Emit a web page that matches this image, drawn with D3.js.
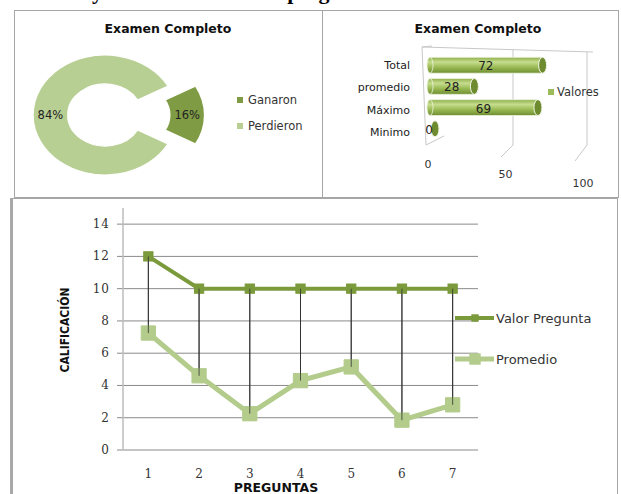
<!DOCTYPE html>
<html>
<head>
<meta charset="utf-8">
<script src="https://cdn.jsdelivr.net/npm/d3@7"></script>
<style>
  body { margin: 0; background: #fff; }
  svg { display: block; }
</style>
</head>
<body>
<svg id="chart"></svg>
<script>
// donut data
const pieLabels = ["Ganaron", "Perdieron"];
const pieValues = [16, 84];
const pieColors = ["#7f9c45", "#b8cf94"];

// bar data
const barCats = ["Total", "promedio", "Máximo", "Minimo"];
const barValues = [72, 28, 69, 0];
const barTicks = [0, 50, 100];

// line data
const preguntas = [1, 2, 3, 4, 5, 6, 7];
const valorPregunta = [12, 10, 10, 10, 10, 10, 10];
const promedio = [7.25, 4.6, 2.25, 4.3, 5.15, 1.85, 2.8];
const yTicks = [0, 2, 4, 6, 8, 10, 12, 14];

const W = 621, H = 494;
const svg = d3.select("#chart").attr("width", W).attr("height", H);

const defs = svg.append("defs");
const grad = defs.append("linearGradient").attr("id", "cyl").attr("x1", 0).attr("y1", 0).attr("x2", 0).attr("y2", 1);
grad.append("stop").attr("offset", "0%").attr("stop-color", "#8fae4c");
grad.append("stop").attr("offset", "30%").attr("stop-color", "#c6dd8e");
grad.append("stop").attr("offset", "60%").attr("stop-color", "#9dbd58");
grad.append("stop").attr("offset", "100%").attr("stop-color", "#6f8d30");

// page heading, mostly cut off at the top (only descenders show)
svg.append("text").attr("x", 12).attr("y", -1)
  .style("font-family", "Liberation Serif").style("font-weight", "bold").style("font-size", "22px")
  .text("Análisis y resultados de cada pregunta");

// panel frames
svg.append("rect").attr("x", 14.5).attr("y", 10.5).attr("width", 308).attr("height", 187)
  .attr("fill", "none").attr("stroke", "#a6a6a6");
svg.append("rect").attr("x", 322.5).attr("y", 10.5).attr("width", 296).attr("height", 187)
  .attr("fill", "none").attr("stroke", "#a6a6a6");
svg.append("rect").attr("x", 12.5).attr("y", 198.5).attr("width", 605).attr("height", 310)
  .attr("fill", "none").attr("stroke", "#a6a6a6");
svg.append("line").attr("x1", 11).attr("x2", 11).attr("y1", 198).attr("y2", H)
  .attr("stroke", "#8c8c8c").attr("stroke-width", 1.5);

const titleStyle = (t) => t.style("font-family", "DejaVu Sans").style("font-weight", "bold")
  .style("font-size", "12.5px").attr("text-anchor", "middle").attr("fill", "#111");
const labelFont = (t, size) => t.style("font-family", "DejaVu Sans").style("font-size", size || "11.5px").attr("fill", "#333");

// ---------- donut ----------
svg.append("text").attr("x", 168).attr("y", 33).text("Examen Completo").call(titleStyle);

const half = Math.PI * pieValues[0] / d3.sum(pieValues);
const pie = d3.pie().sort(null).startAngle(Math.PI / 2 - half).endAngle(Math.PI / 2 - half + 2 * Math.PI);
const arcs = pie(pieValues);
const arc = d3.arc().innerRadius(31).outerRadius(60);
const donut = svg.append("g").attr("transform", "translate(105,115) scale(1.2,1)");
const explode = [23, 0];

donut.selectAll("path").data(arcs).enter().append("path")
  .attr("d", arc)
  .attr("fill", (d, i) => pieColors[i])
  .attr("stroke", "#fff").attr("stroke-width", 1.2)
  .attr("transform", (d, i) => {
    const a = (d.startAngle + d.endAngle) / 2;
    return `translate(${Math.sin(a) * explode[i]},${-Math.cos(a) * explode[i]})`;
  });

arcs.forEach((d, i) => {
  const a = (d.startAngle + d.endAngle) / 2;
  const c = arc.centroid(d);
  const x = 105 + 1.2 * (c[0] + Math.sin(a) * explode[i]);
  const y = 115 + c[1] - Math.cos(a) * explode[i];
  svg.append("text").attr("x", x).attr("y", y + 4).attr("text-anchor", "middle")
    .text(Math.round(pieValues[i]) + "%").call(labelFont, "11.5px").attr("fill", "#222");
});

const pieLeg = svg.append("g");
pieLabels.forEach((l, i) => {
  pieLeg.append("rect").attr("x", 237).attr("y", 97 + i * 26).attr("width", 6).attr("height", 6).attr("fill", pieColors[i]);
  pieLeg.append("text").attr("x", 248).attr("y", 104 + i * 26).text(l).call(labelFont, "11.5px");
});

// ---------- 3D-like cylinder bars ----------
svg.append("text").attr("x", 478).attr("y", 33).text("Examen Completo").call(titleStyle);

const xb = d3.scaleLinear().domain([0, 100]).range([430, 585]);
const xBack = d3.scaleLinear().domain([0, 50, 100]).range([422, 513, 587]);
const yb = d3.scaleBand().domain(barCats).range([52, 142]).padding(0.25);
const tickY = d3.scaleLinear().domain([0, 100]).range([168, 187]);

const box = svg.append("g").attr("stroke", "#c8c8c8").attr("fill", "none");
box.append("line").attr("x1", xBack(0)).attr("y1", 47).attr("x2", xBack(100) + 6).attr("y2", 52);
barTicks.forEach((t) => {
  box.append("line").attr("x1", xBack(t)).attr("x2", xBack(t) + (t === 0 ? 4 : 0))
    .attr("y1", 47 + t * 0.05).attr("y2", 145);
  if (t > 0) {
    box.append("line").attr("x1", xBack(t)).attr("y1", 145).attr("x2", xBack(t) - 12).attr("y2", 153 + t * 0.08);
  }
});
box.append("line").attr("x1", xBack(0) + 4).attr("y1", 145).attr("x2", xBack(0) + 22).attr("y2", 136);
box.append("line").attr("x1", xBack(0)).attr("y1", 47).attr("x2", xBack(0) + 10).attr("y2", 46);

barTicks.forEach((t) => {
  svg.append("text").attr("x", xb(t) - 2).attr("y", tickY(t)).attr("text-anchor", "middle")
    .text(t).call(labelFont, "11px");
});

const bars = svg.append("g");
barCats.forEach((c, i) => {
  const h = yb.bandwidth();
  const y0 = yb(c);
  const x0 = xb(0), x1 = xb(barValues[i]);
  if (barValues[i] > 0) {
    bars.append("rect").attr("x", x0).attr("y", y0).attr("width", x1 - x0).attr("height", h)
      .attr("fill", "url(#cyl)");
    bars.append("ellipse").attr("cx", x0).attr("cy", y0 + h / 2).attr("rx", 3).attr("ry", h / 2)
      .attr("fill", "url(#cyl)").attr("stroke", "#eef4e0").attr("stroke-width", 0.8);
    bars.append("path").attr("d", `M${x0},${y0}H${x1}M${x0},${y0 + h}H${x1}`)
      .attr("stroke", "#eef4e0").attr("stroke-width", 0.8);
  }
  bars.append("ellipse").attr("cx", x1 + (barValues[i] > 0 ? 1 : 5)).attr("cy", y0 + h / 2).attr("rx", 4).attr("ry", h / 2)
    .attr("fill", "#6e8c2f").attr("stroke", "#f2f6ea").attr("stroke-width", 1);
  svg.append("text").attr("x", barValues[i] > 0 ? (x0 + x1) / 2 : x0 - 1).attr("y", y0 + h / 2 + 5).attr("text-anchor", "middle")
    .text(barValues[i]).call(labelFont, "12px").attr("fill", "#222");
  svg.append("text").attr("x", 410).attr("y", y0 + h / 2 + 4 + i).attr("text-anchor", "end")
    .text(c).call(labelFont, "11px").attr("fill", "#222");
});

svg.append("rect").attr("x", 548).attr("y", 89).attr("width", 6).attr("height", 6).attr("fill", "#9bbb59");
svg.append("text").attr("x", 557).attr("y", 96).text("Valores").call(labelFont, "11.5px");

// ---------- line chart ----------
const x = d3.scalePoint().domain(preguntas).range([123, 478]).padding(0.5);
const y = d3.scaleLinear().domain([0, 15]).range([450, 208]);

const plot = svg.append("g");
plot.append("g").selectAll("line").data(yTicks).enter().append("line")
  .attr("x1", 117).attr("x2", 478).attr("y1", (d) => y(d)).attr("y2", (d) => y(d))
  .attr("stroke", "#8a8a8a").attr("stroke-width", 1);
plot.append("line").attr("x1", 123).attr("x2", 123).attr("y1", y(15)).attr("y2", y(0))
  .attr("stroke", "#bdbdbd").attr("stroke-width", 1.5);

plot.append("g").selectAll("text").data(yTicks).enter().append("text")
  .attr("x", 110).attr("y", (d) => y(d) + 4).attr("text-anchor", "end")
  .style("font-family", "DejaVu Serif").style("font-size", "12px").style("letter-spacing", "1px")
  .attr("fill", "#333").text((d) => d);

plot.append("g").selectAll("text").data(preguntas).enter().append("text")
  .attr("x", (d) => x(d)).attr("y", 478).attr("text-anchor", "middle")
  .style("font-family", "DejaVu Serif").style("font-size", "12px")
  .attr("fill", "#333").text((d) => d);

plot.append("text").attr("x", 276).attr("y", 492).attr("text-anchor", "middle")
  .style("font-family", "DejaVu Sans").style("font-weight", "bold").style("font-size", "12.5px")
  .attr("fill", "#111").text("PREGUNTAS");
plot.append("text").attr("transform", "translate(69,330) rotate(-90)").attr("text-anchor", "middle")
  .style("font-family", "DejaVu Sans Condensed").style("font-weight", "bold").style("font-size", "12px")
  .attr("fill", "#111").text("CALIFICACIÓN");

// high-low lines
plot.append("g").selectAll("line").data(preguntas).enter().append("line")
  .attr("x1", (d) => x(d)).attr("x2", (d) => x(d))
  .attr("y1", (d, i) => y(valorPregunta[i])).attr("y2", (d, i) => y(promedio[i]))
  .attr("stroke", "#333").attr("stroke-width", 1);

const line = d3.line().x((d, i) => x(preguntas[i])).y((d) => y(d));
plot.append("path").datum(promedio).attr("d", line).attr("fill", "none")
  .attr("stroke", "#b3cc8c").attr("stroke-width", 5);
plot.append("path").datum(valorPregunta).attr("d", line).attr("fill", "none")
  .attr("stroke", "#7b9a3c").attr("stroke-width", 4);

const diamond = d3.symbol().type(d3.symbolDiamond2).size(110);
const square = d3.symbol().type(d3.symbolSquare2).size(260);
plot.append("g").selectAll("path").data(valorPregunta).enter().append("path")
  .attr("d", diamond).attr("transform", (d, i) => `translate(${x(preguntas[i])},${y(d)}) rotate(45)`)
  .attr("fill", "#7b9a3c").attr("stroke", "#7b9a3c").attr("stroke-width", 1);
plot.append("g").selectAll("path").data(promedio).enter().append("path")
  .attr("d", square).attr("transform", (d, i) => `translate(${x(preguntas[i])},${y(d)})`)
  .attr("fill", "#b3cc8c").attr("stroke", "#b3cc8c");
// redraw high-low over markers like the original
plot.append("g").selectAll("line").data(preguntas).enter().append("line")
  .attr("x1", (d) => x(d)).attr("x2", (d) => x(d))
  .attr("y1", (d, i) => y(valorPregunta[i])).attr("y2", (d, i) => y(promedio[i]))
  .attr("stroke", "#333").attr("stroke-width", 1).attr("opacity", 0.8);

// legend
const lineLeg = svg.append("g");
[["Valor Pregunta", "#7b9a3c", diamond, 4, 318], ["Promedio", "#b3cc8c", square, 5, 359]].forEach((l) => {
  lineLeg.append("line").attr("x1", 455).attr("x2", 494).attr("y1", l[4]).attr("y2", l[4])
    .attr("stroke", l[1]).attr("stroke-width", l[3]);
  lineLeg.append("path").attr("d", l[2]).attr("fill", l[1])
    .attr("transform", `translate(475,${l[4]})` + (l[0] === "Promedio" ? " scale(0.8)" : " rotate(45) scale(0.8)"));
  lineLeg.append("text").attr("x", 496).attr("y", l[4] + 5).text(l[0]).call(labelFont, "13px");
});
</script>
</body>
</html>
